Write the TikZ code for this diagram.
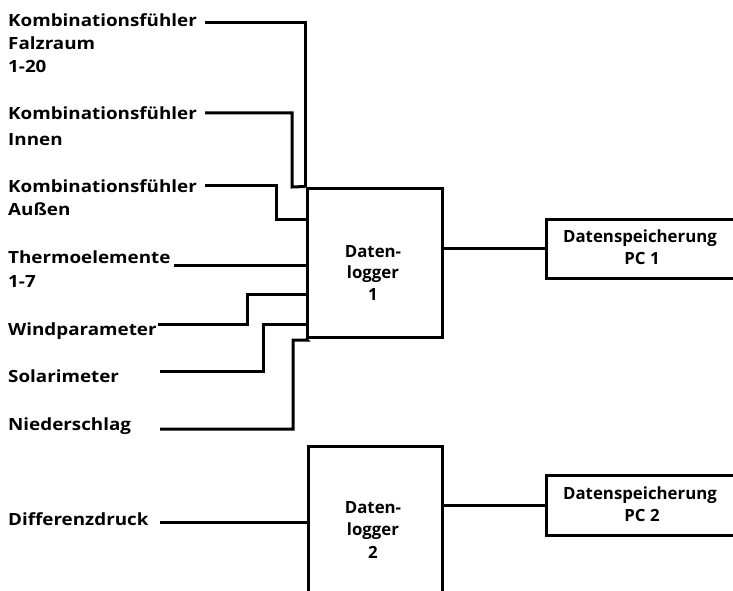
\documentclass[tikz,border=0pt]{standalone}
\usepackage{fontspec}
\setmainfont{Open Sans}
\newfontfamily\widefont{Open Sans}[FakeStretch=1.12]
\usetikzlibrary{calc}
\begin{document}
\begin{tikzpicture}[x=1pt,y=-1pt,
  lbl/.style={anchor=base west,inner sep=0pt,font=\widefont\fontsize{16.8}{22}\selectfont\bfseries},
  ctr/.style={anchor=base,inner sep=0pt,font=\fontsize{16.8}{22}\selectfont\bfseries},
  boxx/.style={draw,line width=3pt,inner sep=0pt},
  wire/.style={line width=3pt}]
\useasboundingbox (0,0) rectangle (733,591);
\clip (0,0) rectangle (733,591);
\fill[white] (0,0) rectangle (733,591);
% boxes
\node[boxx,minimum width=135pt,minimum height=149pt] (dl1) at (374.5,262.5) {};
\node[boxx,minimum width=134pt,minimum height=200pt] (dl2) at (375,546) {};
\node[boxx,minimum width=220pt,minimum height=59pt] (pc1) at (656,248.5) {};
\node[boxx,minimum width=220pt,minimum height=60pt] (pc2) at (656,505) {};
% box texts
\node[ctr] (d1a) at (373,257) {Daten-};
\node[ctr] (d1b) at (373,278) {logger};
\node[ctr] (d1c) at (373,300) {1};
\node[ctr] (d2a) at (373,513) {Daten-};
\node[ctr] (d2b) at (373,535) {logger};
\node[ctr] (d2c) at (373,558) {2};
\node[ctr] (p1a) at (640,242) {Datenspeicherung};
\node[ctr] (p1b) at (642,264) {PC 1};
\node[ctr] (p2a) at (640,499) {Datenspeicherung};
\node[ctr] (p2b) at (642,521) {PC 2};
% labels
\node[lbl] (k1) at (8,27) {Kombinationsfühler};
\node[lbl] (k1b) at (8,50) {Falzraum};
\node[lbl] (k1c) at (8,73) {1-20};
\node[lbl] (k2) at (8,120) {Kombinationsfühler};
\node[lbl] (k2b) at (8,145) {Innen};
\node[lbl] (k3) at (8,192) {Kombinationsfühler};
\node[lbl] (k3b) at (8,215) {Außen};
\node[lbl] (th) at (8,263) {Thermoelemente};
\node[lbl] (thb) at (8,287) {1-7};
\node[lbl] (wp) at (8,335) {Windparameter};
\node[lbl] (so) at (8,382) {Solarimeter};
\node[lbl] (ni) at (8,430) {Niederschlag};
\node[lbl] (dd) at (8,525) {Differenzdruck};
% wire start points
\coordinate (s1) at (205,23);
\coordinate (s2) at (205,113);
\coordinate (s3) at (205,185);
\coordinate (s4) at (174,265);
\coordinate (s5) at (158,324);
\coordinate (s6) at (160,371);
\coordinate (s7) at (160,429);
\coordinate (s8) at (160,522);
% wires
\draw[wire] (s1) -| (dl1.north west);
\draw[wire] (s2) -| (292,187) -- (dl1.north west);
\draw[wire] (s3) -| (276,219) -- (dl1.west |- 0,219);
\draw[wire] (s4) -- (dl1.west |- s4);
\draw[wire] (s5) -| (247,294) -- (dl1.west |- 0,294);
\draw[wire] (s6) -| (263,324) -- (dl1.west |- 0,324);
\draw[wire] (s7) -| (293,340) -- (307,340) -- (dl1.south west);
\draw[wire] (s8) -- (dl2.west |- s8);
\draw[wire] (dl1.east |- pc1.west) -- (pc1.west);
\draw[wire] (dl2.east |- pc2.west) -- (pc2.west);
\end{tikzpicture}
\end{document}
